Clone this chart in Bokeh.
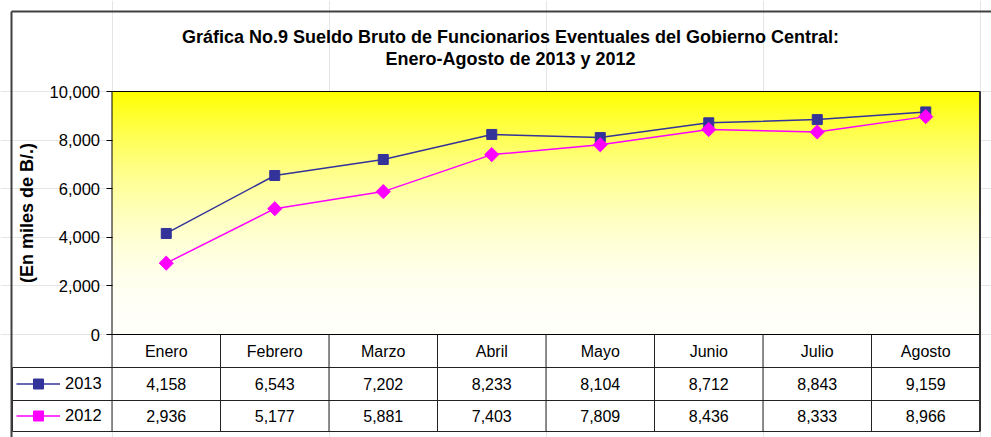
import numpy as np
from bokeh.plotting import figure
from bokeh.models import (FixedTicker, NumeralTickFormatter, Legend, LegendItem,
                          ColumnDataSource, Range1d, LinearAxis)
from bokeh.core.properties import value
from bokeh.embed import file_html
from bokeh.resources import INLINE

# ---------------- data ----------------
months = ["Enero", "Febrero", "Marzo", "Abril", "Mayo", "Junio", "Julio", "Agosto"]
series_names = ["2013", "2012"]
values_2013 = [4158, 6543, 7202, 8233, 8104, 8712, 8843, 9159]
values_2012 = [2936, 5177, 5881, 7403, 7809, 8436, 8333, 8966]
y_ticks = [0, 2000, 4000, 6000, 8000, 10000]
title_lines = ["Gráfica No.9 Sueldo Bruto de Funcionarios Eventuales del Gobierno Central:",
               "Enero-Agosto de 2013 y 2012"]
y_label = "(En miles de B/.)"
color_2013 = "#333399"
color_2012 = "#FF00FF"

# ---------------- layout (canvas pixels) ----------------
W, H = 991, 437
X0_PX, X8_PX = 111.5, 979.5      # left / right edge of plot area
Y0_PX, YMAX_PX = 334, 91         # y=0 and y=10000
YMAX = 10000
ROWS = [334, 367, 400, 431]      # data-table row boundaries
LEG_L = 12                       # left edge of legend column
BORDER = 11                      # outer chart border
TITLE_Y = [36, 58]
TITLE_X = 510
FONT = "Liberation Sans"

ncat = len(months)
ppx = (X8_PX - X0_PX) / ncat
ppy = (Y0_PX - YMAX_PX) / YMAX


def xd(px):
    return (px - X0_PX) / ppx


def yd(py):
    return (Y0_PX - py) / ppy


p = figure(width=W, height=H, output_backend="svg", toolbar_location=None,
           x_range=Range1d(xd(0), xd(W)), y_range=Range1d(yd(H), yd(0)),
           min_border_left=0, min_border_right=0, min_border_top=0, min_border_bottom=0,
           x_axis_location=None, y_axis_location=None)
p.outline_line_color = None
p.background_fill_color = "white"
p.border_fill_color = "white"

# y axis at the plot area's left edge
ax = LinearAxis(fixed_location=0)
ax.ticker = FixedTicker(ticks=y_ticks)
ax.formatter = NumeralTickFormatter(format="0,0")
ax.bounds = (0, YMAX)
ax.axis_line_color = None
ax.major_tick_out = 6
ax.major_tick_in = 0
ax.minor_tick_out = 0
ax.minor_tick_in = 0
ax.major_tick_line_color = "black"
ax.major_label_standoff = 6
ax.major_label_text_font = FONT
ax.major_label_text_font_size = "16.5px"
ax.major_label_text_color = "black"
ax.axis_label = y_label
ax.axis_label_text_font = FONT
ax.axis_label_text_font_size = "18px"
ax.axis_label_text_font_style = "bold"
ax.axis_label_text_color = "black"
ax.axis_label_standoff = 10
p.add_layout(ax, "left")

# gradient background of plot area (yellow at top fading to white)
n = 256
img = np.empty((n, 1), dtype=np.uint32)
view = img.view(dtype=np.uint8).reshape((n, 1, 4))
t = np.linspace(0.0, 1.0, n)
view[:, 0, 0] = 255
view[:, 0, 1] = 255
view[:, 0, 2] = np.round(250 * (1 - t ** 2)).astype(np.uint8)
view[:, 0, 3] = 255
p.image_rgba(image=[img], x=0, y=0, dw=ncat, dh=YMAX)
p.quad(left=[0], right=[ncat], bottom=[0], top=[YMAX], fill_color=None,
       line_color="black", line_width=1)

# series
xs = [i + 0.5 for i in range(ncat)]
src = ColumnDataSource(dict(x=xs, v13=values_2013, v12=values_2012))
l13 = p.line("x", "v13", source=src, line_color=color_2013, line_width=1.5)
s13 = p.scatter("x", "v13", source=src, marker="square", size=10,
                fill_color=color_2013, line_color=color_2013)
l12 = p.line("x", "v12", source=src, line_color=color_2012, line_width=1.5)
s12 = p.scatter("x", "v12", source=src, marker="square", angle=np.pi / 4, size=10,
                fill_color=color_2012, line_color=color_2012)

# data table grid
tbl_line = "#222222"
hy = [yd(r) for r in ROWS[1:]]
p.segment(x0=[xd(LEG_L)] * 3, x1=[ncat] * 3, y0=hy, y1=hy, line_color=tbl_line, line_width=1)
p.segment(x0=list(range(ncat)), x1=list(range(ncat)), y0=[0] * ncat,
          y1=[yd(ROWS[-1])] * ncat, line_color=tbl_line, line_width=1)
p.segment(x0=[xd(LEG_L)], x1=[xd(LEG_L)], y0=[yd(ROWS[1])], y1=[yd(ROWS[-1])],
          line_color=tbl_line, line_width=1)
# darker right edge of plot area and table
p.segment(x0=[ncat], x1=[ncat], y0=[YMAX], y1=[yd(ROWS[-1])], line_color="#333333",
          line_width=2)

row_centers = [yd((ROWS[i] + ROWS[i + 1]) / 2) for i in range(3)]
txt = dict(text_align="center", text_baseline="middle", text_font=value(FONT),
           text_font_size="16px", text_color="black")
p.text(x=xs, y=[row_centers[0]] * ncat, text=months, **txt)
p.text(x=xs, y=[row_centers[1]] * ncat, text=[f"{v:,}" for v in values_2013], **txt)
p.text(x=xs, y=[row_centers[2]] * ncat, text=[f"{v:,}" for v in values_2012], **txt)

# title
p.text(x=[xd(TITLE_X)] * 2, y=[yd(ty) for ty in TITLE_Y], text=title_lines,
       text_align="center", text_baseline="middle", text_font=value(FONT),
       text_font_size="18px", text_font_style="bold", text_color="black")

# outer chart border (left and top)
p.segment(x0=[xd(BORDER), xd(BORDER)], x1=[xd(BORDER), xd(W + 5)],
          y0=[yd(BORDER), yd(BORDER)], y1=[yd(H + 5), yd(BORDER)],
          line_color="#404040", line_width=2)

# legend entries in the table's first column
GLYPH_H = 25
for name, lr, sr, ri in [(series_names[0], l13, s13, 1), (series_names[1], l12, s12, 2)]:
    row_top, row_bot = ROWS[ri], ROWS[ri + 1]
    leg_bottom = (row_top + row_bot) / 2 + GLYPH_H / 2
    leg = Legend(items=[LegendItem(label=name, renderers=[lr, sr])],
                 location=(16, H - leg_bottom),
                 padding=0, spacing=0, margin=0, glyph_width=44, glyph_height=GLYPH_H,
                 label_height=GLYPH_H, label_standoff=5, label_text_font=FONT,
                 label_text_font_size="16.5px", label_text_color="black",
                 border_line_color=None, background_fill_alpha=0.0)
    p.add_layout(leg)

open("out.html", "w").write(file_html(p, INLINE))
